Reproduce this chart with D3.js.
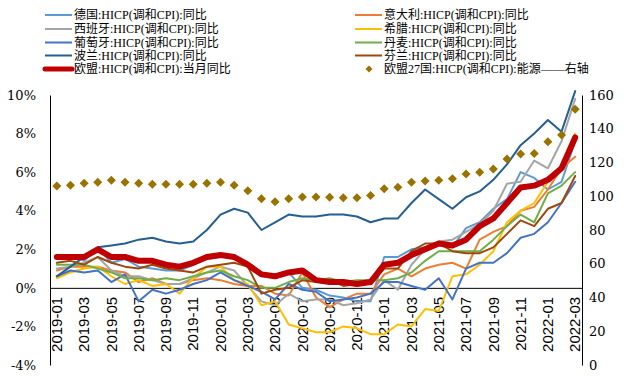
<!DOCTYPE html>
<html><head><meta charset="utf-8">
<script src="https://cdn.jsdelivr.net/npm/d3@7"></script>
<style>
html,body{margin:0;padding:0;background:#fff;}
svg{display:block;}
</style></head>
<body>
<svg id="chart" width="624" height="381"></svg>
<script>
const months = ["2019-01","2019-02","2019-03","2019-04","2019-05","2019-06","2019-07","2019-08","2019-09","2019-10","2019-11","2019-12",
"2020-01","2020-02","2020-03","2020-04","2020-05","2020-06","2020-07","2020-08","2020-09","2020-10","2020-11","2020-12",
"2021-01","2021-02","2021-03","2021-04","2021-05","2021-06","2021-07","2021-08","2021-09","2021-10","2021-11","2021-12",
"2022-01","2022-02","2022-03"];
const xTickLabels = ["2019-01","2019-03","2019-05","2019-07","2019-09","2019-11","2020-01","2020-03","2020-05","2020-07","2020-09","2020-11","2021-01","2021-03","2021-05","2021-07","2021-09","2021-11","2022-01","2022-03"];
const leftTicks = [-4,-2,0,2,4,6,8,10];
const rightTicks = [0,20,40,60,80,100,120,140,160];

const germany  = [1.7,1.7,1.4,2.1,1.3,1.5,1.1,1.0,0.9,0.9,1.2,1.5, 1.6,1.7,1.3,0.8,0.5,0.8,0.0,-0.1,-0.4,-0.5,-0.7,-0.7, 1.6,1.6,2.0,2.1,2.4,2.1,3.1,3.4,4.1,4.6,6.0,5.7, 5.1,5.5,7.6];
const italy    = [0.9,1.1,1.1,1.1,0.9,0.8,0.3,0.5,0.2,0.2,0.4,0.5, 0.4,0.2,0.1,0.1,-0.3,-0.4,0.8,-0.5,-1.0,-0.6,-0.3,-0.3, 0.7,1.0,0.6,1.0,1.2,1.3,1.0,2.5,2.9,3.2,4.0,4.2, 5.1,6.2,6.8];
const spain    = [1.0,1.1,1.3,1.6,0.9,0.6,0.6,0.4,0.2,0.2,0.5,0.8, 1.1,0.9,0.1,-0.7,-0.9,-0.3,-0.7,-0.6,-0.6,-0.9,-0.8,-0.6, 0.4,-0.1,1.2,2.0,2.4,2.5,2.9,3.3,4.0,5.4,5.5,6.6, 6.2,7.6,9.8];
const greece   = [0.5,0.8,1.0,1.1,0.6,0.2,0.4,0.1,0.2,-0.3,0.5,1.1, 1.1,0.4,0.2,-0.9,-0.7,-1.9,-2.1,-2.3,-2.3,-2.0,-2.1,-2.4, -2.4,-1.9,-2.0,-1.1,-1.2,0.6,0.7,1.2,1.9,3.4,4.0,4.4, 5.5,6.3,8.0];
const portugal = [0.6,0.9,0.8,0.9,0.3,0.7,-0.7,-0.1,-0.3,-0.1,0.2,0.4, 0.8,0.4,0.1,-0.2,-0.6,0.2,-0.1,-0.2,-0.7,-0.6,-0.5,-0.3, 0.3,0.3,0.1,-0.1,0.5,-0.6,1.0,1.3,1.3,1.8,2.6,2.8, 3.4,4.4,5.5];
const denmark  = [1.2,1.2,1.2,1.0,0.8,0.5,0.5,0.4,0.5,0.4,0.6,0.8, 0.9,0.6,0.4,0.0,0.0,0.3,0.5,0.4,0.5,0.3,0.4,0.4, 0.4,0.5,0.8,1.4,1.9,1.9,1.9,1.9,2.5,3.2,3.8,3.4, 4.9,5.3,6.0];
const poland   = [0.6,1.1,1.6,2.1,2.2,2.3,2.5,2.6,2.4,2.3,2.4,3.0, 3.8,4.1,3.9,3.0,3.4,3.8,3.7,3.7,3.8,3.8,3.7,3.4, 3.6,3.6,4.4,5.1,4.6,4.1,4.7,5.0,5.6,6.4,7.4,8.0, 8.7,8.1,10.2];
const finland  = [1.3,1.4,1.2,1.6,1.3,1.1,1.0,1.2,1.0,0.9,0.8,1.1, 1.2,1.3,1.1,-0.3,-0.1,0.0,0.4,0.3,0.4,0.1,0.2,0.2, 1.0,1.0,1.9,2.3,2.3,1.9,1.8,1.8,2.1,2.8,3.5,3.2, 4.1,4.4,5.8];
const eu       = [1.6,1.6,1.6,2.0,1.6,1.6,1.4,1.4,1.2,1.1,1.3,1.6, 1.7,1.6,1.2,0.7,0.6,0.8,0.9,0.4,0.3,0.3,0.2,0.3, 1.2,1.3,1.7,2.0,2.3,2.2,2.5,3.2,3.6,4.4,5.2,5.3, 5.6,6.2,7.8];
const energy   = [106.1,106.5,107.7,108.3,109.5,108.3,107.7,107.1,107.1,107.1,107.1,107.7, 108.3,106.5,103.3,98.5,96.8,98.5,99.6,99.6,99.4,99.1,99.1,100.5, 104.5,105.3,108.3,109.0,109.5,110.4,113.2,114.2,116.1,122.1,125.0,125.4, 132.3,136.3,151.5];

const seriesNames = ["德国","意大利","西班牙","希腊","葡萄牙","丹麦","波兰","芬兰","欧盟"];
const seriesColors = ["#5B9BD5","#ED7D31","#A5A5A5","#FFC000","#4472C4","#70AD47","#255E91","#9E480E","#C00000"];
const seriesData = [germany, italy, spain, greece, portugal, denmark, poland, finland, eu];
const energyName = "欧盟27国:HICP(调和CPI):能源——右轴";
const energyColor = "#997300";

const svg = d3.select("#chart");
const L = 50, R = 582, T = 95, B = 365;
const x = d3.scaleBand().domain(months).range([L, R]);
const cx = m => x(m) + x.bandwidth() / 2;
const yL = d3.scaleLinear().domain([-4, 10]).range([B, T]);
const yR = d3.scaleLinear().domain([0, 160]).range([B, T]);

const serif = "'DejaVu Serif', serif";

// left axis
const gL = svg.append("g").attr("transform", `translate(${L},0)`)
  .call(d3.axisLeft(yL).tickValues(leftTicks).tickFormat(d => d + "%").tickSize(0).tickPadding(14));
gL.select(".domain").attr("stroke", "#000").attr("stroke-width", 1);
gL.selectAll("text").attr("font-family", serif).attr("font-size", 13).attr("fill", "#000");

// right axis
const gR = svg.append("g").attr("transform", `translate(${R},0)`)
  .call(d3.axisRight(yR).tickValues(rightTicks).tickSize(0).tickPadding(7));
gR.select(".domain").attr("stroke", "#000").attr("stroke-width", 1);
gR.selectAll("text").attr("font-family", serif).attr("font-size", 13).attr("fill", "#000");

// x axis at 0%
const gX = svg.append("g").attr("transform", `translate(0,${yL(0)})`)
  .call(d3.axisBottom(x).tickValues(xTickLabels).tickSize(0).tickSizeOuter(0));
gX.select(".domain").attr("stroke", "#000").attr("stroke-width", 1);
gX.selectAll("text")
  .attr("font-family", "'Liberation Sans', Arial, sans-serif").attr("font-size", 15).attr("fill", "#000")
  .attr("transform", "rotate(-90)")
  .attr("text-anchor", "end")
  .attr("x", -9).attr("y", 0).attr("dy", "0.35em");

// lines
const line = d3.line().x((d, i) => cx(months[i])).y(d => yL(d));
seriesData.forEach((s, k) => {
  const isEU = k === 8;
  svg.append("path").datum(s)
    .attr("fill", "none")
    .attr("stroke", seriesColors[k])
    .attr("stroke-width", isEU ? 6 : 2)
    .attr("stroke-linejoin", "round")
    .attr("stroke-linecap", "round")
    .attr("d", line);
});

// energy diamonds
const diamond = "M0,-4.5L4.5,0L0,4.5L-4.5,0Z";
svg.append("g").selectAll("path").data(energy).join("path")
  .attr("d", diamond)
  .attr("fill", energyColor)
  .attr("transform", (d, i) => `translate(${cx(months[i])},${yR(d)})`);

// legend
const legendFont = "'Liberation Serif', 'Noto Sans CJK SC', serif";
const legendItems = [
  {name: "德国:HICP(调和CPI):同比", color: seriesColors[0], col: 0, row: 0},
  {name: "意大利:HICP(调和CPI):同比", color: seriesColors[1], col: 1, row: 0},
  {name: "西班牙:HICP(调和CPI):同比", color: seriesColors[2], col: 0, row: 1},
  {name: "希腊:HICP(调和CPI):同比", color: seriesColors[3], col: 1, row: 1},
  {name: "葡萄牙:HICP(调和CPI):同比", color: seriesColors[4], col: 0, row: 2},
  {name: "丹麦:HICP(调和CPI):同比", color: seriesColors[5], col: 1, row: 2},
  {name: "波兰:HICP(调和CPI):同比", color: seriesColors[6], col: 0, row: 3},
  {name: "芬兰:HICP(调和CPI):同比", color: seriesColors[7], col: 1, row: 3},
  {name: "欧盟:HICP(调和CPI):当月同比", color: seriesColors[8], col: 0, row: 4, thick: true},
  {name: energyName, color: energyColor, col: 1, row: 4, marker: true}
];
const colX = [45, 355];
const rowY = [15, 29, 42.5, 55.5, 69];
const lg = svg.append("g");
legendItems.forEach(it => {
  const x0 = colX[it.col], y0 = rowY[it.row];
  if (it.marker) {
    lg.append("path").attr("d", "M0,-3.5L3.5,0L0,3.5L-3.5,0Z").attr("fill", it.color)
      .attr("transform", `translate(${x0 + 14},${y0})`);
  } else {
    lg.append("line").attr("x1", x0).attr("x2", x0 + 27).attr("y1", y0).attr("y2", y0)
      .attr("stroke", it.color).attr("stroke-width", it.thick ? 5 : 2)
      .attr("stroke-linecap", it.thick ? "round" : "butt");
  }
  lg.append("text").attr("x", x0 + 29).attr("y", y0).attr("dy", "0.35em")
    .attr("font-family", legendFont).attr("font-size", 12).attr("fill", "#000")
    .text(it.name);
});
</script>
</body></html>
